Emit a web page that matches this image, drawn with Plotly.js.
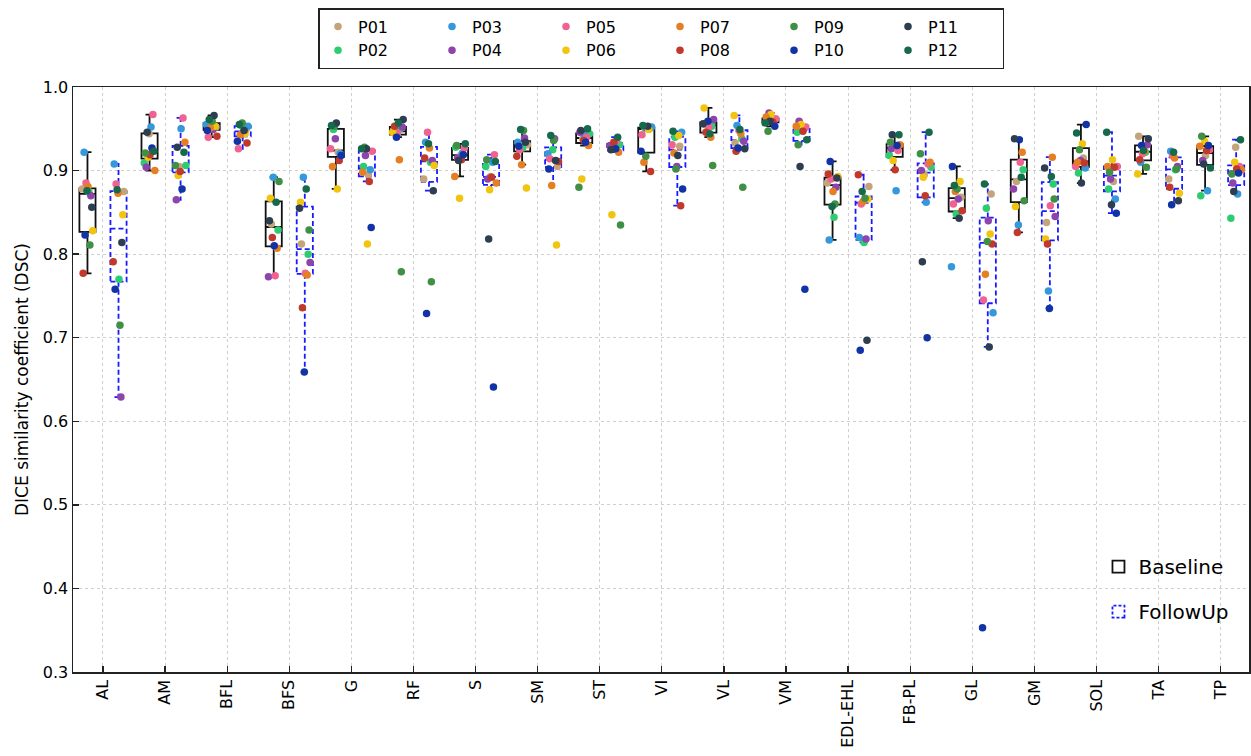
<!DOCTYPE html>
<html>
<head>
<meta charset="utf-8">
<script src="https://cdn.plot.ly/plotly-3.0.1.min.js"></script>
<style>
  html, body { margin: 0; padding: 0; background: #ffffff; }
  #chart { width: 1251px; height: 756px; }
</style>
</head>
<body>
<div id="chart"></div>
<script>
// ---------------- data ----------------
const categories = ['AL','AM','BFL','BFS','G','RF','S','SM','ST','VI','VL','VM','EDL-EHL','FB-PL','GL','GM','SOL','TA','TP'];
const participants = ['P01','P02','P03','P04','P05','P06','P07','P08','P09','P10','P11','P12'];
const groupNames = ['Baseline', 'FollowUp'];

// DSC per muscle, ordered P01 ... P12
const AL_BL      = [0.878, 0.874, 0.922, 0.870, 0.885, 0.828, 0.881, 0.777, 0.811, 0.823, 0.856, 0.876];
const AL_FU      = [0.875, 0.770, 0.908, 0.629, 0.884, 0.847, 0.873, 0.791, 0.715, 0.758, 0.814, 0.877];
const AM_BL      = [0.944, 0.909, 0.952, 0.904, 0.967, 0.916, 0.900, 0.919, 0.921, 0.927, 0.946, 0.923];
const AM_FU      = [0.905, 0.906, 0.950, 0.865, 0.963, 0.894, 0.934, 0.899, 0.906, 0.878, 0.928, 0.922];
const BFL_BL     = [0.952, 0.956, 0.955, 0.949, 0.940, 0.953, 0.951, 0.941, 0.959, 0.948, 0.966, 0.961];
const BFL_FU     = [0.949, 0.954, 0.953, 0.946, 0.926, 0.944, 0.943, 0.933, 0.957, 0.935, 0.948, 0.955];
const BFS_BL     = [0.836, 0.829, 0.892, 0.773, 0.774, 0.867, 0.807, 0.820, 0.887, 0.810, 0.840, 0.862];
const BFS_FU     = [0.812, 0.800, 0.892, 0.790, 0.777, 0.862, 0.775, 0.736, 0.829, 0.659, 0.855, 0.878];
const G_BL       = [0.922, 0.949, 0.920, 0.938, 0.926, 0.878, 0.905, 0.912, 0.953, 0.918, 0.957, 0.954];
const G_FU       = [0.895, 0.905, 0.901, 0.918, 0.923, 0.812, 0.898, 0.887, 0.928, 0.832, 0.926, 0.926];
const RF_BL      = [0.948, 0.950, 0.944, 0.952, 0.945, 0.946, 0.913, 0.953, 0.779, 0.940, 0.961, 0.957];
const RF_FU      = [0.890, 0.910, 0.934, 0.912, 0.946, 0.906, 0.927, 0.915, 0.767, 0.729, 0.876, 0.932];
const S_BL       = [0.918, 0.928, 0.921, 0.915, 0.927, 0.867, 0.893, 0.913, 0.930, 0.919, 0.912, 0.932];
const S_FU       = [0.893, 0.905, 0.910, 0.890, 0.919, 0.877, 0.885, 0.892, 0.913, 0.641, 0.818, 0.911];
const SM_BL      = [0.931, 0.927, 0.934, 0.939, 0.925, 0.879, 0.907, 0.917, 0.948, 0.929, 0.934, 0.949];
const SM_FU      = [0.905, 0.925, 0.920, 0.938, 0.914, 0.811, 0.882, 0.911, 0.936, 0.902, 0.912, 0.942];
const ST_BL      = [0.938, 0.944, 0.942, 0.946, 0.940, 0.890, 0.930, 0.936, 0.880, 0.934, 0.948, 0.950];
const ST_FU      = [0.929, 0.931, 0.933, 0.930, 0.936, 0.847, 0.922, 0.934, 0.835, 0.926, 0.925, 0.940];
const VI_BL      = [0.950, 0.951, 0.952, 0.951, 0.943, 0.949, 0.910, 0.899, 0.917, 0.923, 0.953, 0.954];
const VI_FU      = [0.929, 0.940, 0.946, 0.905, 0.931, 0.942, 0.921, 0.858, 0.902, 0.878, 0.918, 0.947];
const VL_BL      = [0.955, 0.953, 0.957, 0.961, 0.952, 0.975, 0.940, 0.946, 0.906, 0.959, 0.956, 0.944];
const VL_FU      = [0.933, 0.938, 0.954, 0.935, 0.948, 0.966, 0.944, 0.923, 0.880, 0.927, 0.926, 0.949];
const VM_BL      = [0.960, 0.958, 0.961, 0.969, 0.962, 0.967, 0.964, 0.958, 0.947, 0.953, 0.959, 0.957];
const VM_FU      = [0.948, 0.946, 0.950, 0.959, 0.952, 0.955, 0.953, 0.947, 0.931, 0.758, 0.905, 0.937];
const EDL_EHL_BL = [0.885, 0.844, 0.817, 0.880, 0.890, 0.893, 0.875, 0.896, 0.860, 0.911, 0.891, 0.857];
const EDL_EHL_FU = [0.881, 0.814, 0.820, 0.818, 0.860, 0.866, 0.863, 0.895, 0.867, 0.685, 0.697, 0.875];
const FB_PL_BL   = [0.928, 0.918, 0.876, 0.926, 0.924, 0.912, 0.931, 0.901, 0.934, 0.930, 0.943, 0.943];
const FB_PL_FU   = [0.895, 0.904, 0.862, 0.900, 0.908, 0.892, 0.910, 0.870, 0.920, 0.700, 0.791, 0.946];
const GL_BL      = [0.868, 0.848, 0.785, 0.866, 0.860, 0.887, 0.875, 0.852, 0.878, 0.905, 0.843, 0.882];
const GL_FU      = [0.872, 0.855, 0.730, 0.840, 0.745, 0.824, 0.776, 0.812, 0.815, 0.353, 0.689, 0.884];
const GM_BL      = [0.887, 0.901, 0.835, 0.878, 0.910, 0.857, 0.922, 0.826, 0.864, 0.937, 0.938, 0.892];
const GM_FU      = [0.838, 0.884, 0.756, 0.845, 0.858, 0.818, 0.916, 0.812, 0.866, 0.735, 0.903, 0.893];
const SOL_BL     = [0.915, 0.897, 0.903, 0.912, 0.905, 0.932, 0.910, 0.909, 0.925, 0.955, 0.885, 0.945];
const SOL_FU     = [0.887, 0.878, 0.866, 0.890, 0.905, 0.913, 0.905, 0.904, 0.898, 0.849, 0.859, 0.946];
const TA_BL      = [0.941, 0.922, 0.910, 0.931, 0.920, 0.896, 0.923, 0.913, 0.904, 0.930, 0.938, 0.924];
const TA_FU      = [0.890, 0.901, 0.923, 0.905, 0.918, 0.873, 0.915, 0.880, 0.902, 0.859, 0.864, 0.922];
const TP_BL      = [0.918, 0.870, 0.876, 0.912, 0.925, 0.935, 0.929, 0.924, 0.941, 0.930, 0.908, 0.903];
const TP_FU      = [0.928, 0.843, 0.872, 0.885, 0.905, 0.910, 0.901, 0.902, 0.896, 0.897, 0.875, 0.937];

const baselineByMuscle = [AL_BL, AM_BL, BFL_BL, BFS_BL, G_BL, RF_BL, S_BL, SM_BL, ST_BL, VI_BL, VL_BL, VM_BL,
                          EDL_EHL_BL, FB_PL_BL, GL_BL, GM_BL, SOL_BL, TA_BL, TP_BL];
const followUpByMuscle = [AL_FU, AM_FU, BFL_FU, BFS_FU, G_FU, RF_FU, S_FU, SM_FU, ST_FU, VI_FU, VL_FU, VM_FU,
                          EDL_EHL_FU, FB_PL_FU, GL_FU, GM_FU, SOL_FU, TA_FU, TP_FU];

// ---------------- style ----------------
const participantColors = ['#c4a57b', '#2ecc71', '#3498db', '#8e44ad', '#f06292', '#f1c40f',
                           '#e67e22', '#c0392b', '#3f8f45', '#1133a6', '#2c3e50', '#17694c'];
const FONT = 'DejaVu Sans, Verdana, sans-serif';
const OFFSET = [-0.25, 0.25];
const BOX_W = 0.26;

// ---------------- stats (matplotlib style: linear percentiles, 1.5 IQR whiskers) ----------------
function pct(sorted, p) {
  const h = (sorted.length - 1) * p, lo = Math.floor(h), hi = Math.ceil(h);
  return sorted[lo] + (sorted[hi] - sorted[lo]) * (h - lo);
}
function boxStats(vals) {
  const s = vals.slice().sort((a, b) => a - b);
  const q1 = pct(s, 0.25), med = pct(s, 0.5), q3 = pct(s, 0.75), iqr = q3 - q1;
  const lo = s.find(v => v >= q1 - 1.5 * iqr);
  const hi = s.slice().reverse().find(v => v <= q3 + 1.5 * iqr);
  return {q1, med, q3, lo, hi};
}
function jitter(p, c) { return (((p * 7 + c * 5) % 12) / 11 - 0.5) * 0.17; }

const traces = [];
[baselineByMuscle, followUpByMuscle].forEach((set, g) => {
  const st = set.map(boxStats);
  traces.push({
    type: 'box', name: groupNames[g], legend: 'legend2', legendgroup: 'box' + g,
    x: categories.map((_, c) => c + OFFSET[g]),
    q1: st.map(s => s.q1), median: st.map(s => s.med), q3: st.map(s => s.q3),
    lowerfence: st.map(s => s.lo), upperfence: st.map(s => s.hi),
    width: BOX_W, whiskerwidth: 0.5, boxpoints: false,
    fillcolor: 'rgba(0,0,0,0)',
    line: {color: g === 0 ? '#111111' : '#1a1aff', width: 1.8},
    hoverinfo: 'skip'
  });
});

participants.forEach((name, p) => {
  const xs = [], ys = [];
  [baselineByMuscle, followUpByMuscle].forEach((set, g) => {
    set.forEach((vals, c) => {
      xs.push(c + OFFSET[g] + jitter(p, c + 19 * g));
      ys.push(vals[p]);
    });
  });
  traces.push({
    type: 'scatter', mode: 'markers', name: name, legend: 'legend',
    legendgroup: 'pair' + Math.floor(p / 2),
    x: xs, y: ys,
    marker: {color: participantColors[p], size: 7.5, line: {width: 0}},
    hoverinfo: 'skip'
  });
});

const layout = {
  width: 1251, height: 756,
  margin: {l: 73, r: 2, t: 87, b: 84},
  paper_bgcolor: '#ffffff', plot_bgcolor: '#ffffff',
  font: {family: FONT, size: 16, color: '#000000'},
  showlegend: true,
  hovermode: false,
  xaxis: {
    range: [-0.483, 18.457], tickmode: 'array',
    tickvals: categories.map((_, c) => c), ticktext: categories,
    tickangle: -90, ticks: 'inside', ticklen: 6, tickwidth: 1.3, tickcolor: '#222',
    showline: true, linecolor: '#222', linewidth: 1.5, mirror: true,
    showgrid: true, gridcolor: '#cfcfcf', griddash: 'dot', gridwidth: 1,
    zeroline: false, tickfont: {size: 16, family: FONT}
  },
  yaxis: {
    range: [0.3, 1.0], tick0: 0.3, dtick: 0.1, tickformat: '.1f',
    ticks: 'inside', ticklen: 6, tickwidth: 1.3, tickcolor: '#222',
    showline: true, linecolor: '#222', linewidth: 1.5, mirror: true,
    showgrid: true, gridcolor: '#cfcfcf', griddash: 'dot', gridwidth: 1,
    zeroline: false, tickfont: {size: 16, family: FONT},
    title: {text: 'DICE similarity coefficient (DSC)', font: {size: 17, family: FONT}, standoff: 10}
  },
  legend: {
    orientation: 'h', traceorder: 'grouped',
    x: 0.5, xanchor: 'center', y: 1.135, yanchor: 'top',
    bgcolor: '#ffffff', bordercolor: '#222', borderwidth: 1.5,
    font: {size: 16, family: FONT}, itemwidth: 30, entrywidth: 69
  },
  legend2: {
    orientation: 'v', traceorder: 'grouped', tracegroupgap: 16,
    x: 0.872, xanchor: 'left', y: 0.07, yanchor: 'bottom',
    bgcolor: 'rgba(0,0,0,0)', borderwidth: 0,
    font: {size: 20, family: FONT}
  }
};

const gd = document.getElementById('chart');
Plotly.newPlot(gd, traces, layout, {staticPlot: true, displayModeBar: false}).then(() => {
  const boxGroups = gd.querySelectorAll('.boxlayer .trace');
  if (boxGroups[1]) boxGroups[1].querySelectorAll('path').forEach(el => { el.style.strokeDasharray = '5px,3px'; });
  const legItems = gd.querySelectorAll('.legend2 .traces');
  if (legItems[1]) legItems[1].querySelectorAll('path').forEach(el => { el.style.strokeDasharray = '3px,2px'; });
});
</script>
</body>
</html>
